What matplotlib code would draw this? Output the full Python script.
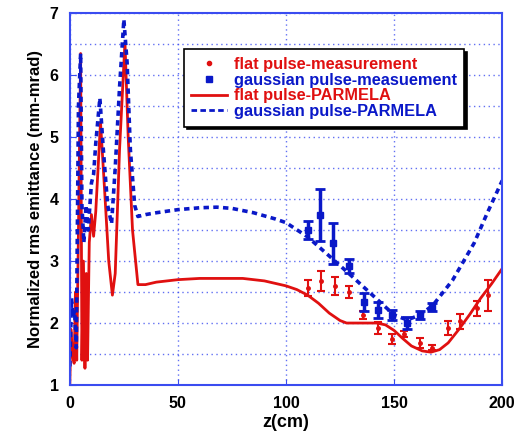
import numpy as np
import matplotlib
matplotlib.use("Agg")
import matplotlib.pyplot as plt
from matplotlib.lines import Line2D

plt.rcParams['font.family'] = ['Liberation Sans', 'DejaVu Sans']
plt.rcParams['font.weight'] = 'bold'

# PARMELA Simulation, flacher Puls
flat_z = [0, 0.5, 1.2, 2.0, 2.6, 3.2, 4.0, 5.0, 5.6, 6.3, 7.0, 7.6, 8.2, 9.0, 10.0, 11.0, 12.0,
          14.2, 16.0, 18.0, 19.7, 21, 23, 25.5, 27, 29, 31.5, 35, 40, 50, 60, 70, 80, 90, 100,
          105, 110, 115, 120, 125, 128, 135, 142, 146, 150, 154, 158, 163, 167, 171, 175,
          180, 185, 190, 195, 200]
flat_eps = [1.0, 1.9, 1.5, 1.35, 2.5, 1.4, 3.5, 6.35, 1.4, 3.0, 1.27, 2.8, 1.4, 3.3, 3.75, 3.4, 3.8,
            5.24, 4.2, 3.0, 2.45, 2.8, 4.8, 6.53, 5.0, 3.5, 2.62, 2.62, 2.66, 2.7, 2.72, 2.72, 2.72, 2.68, 2.6,
            2.54, 2.45, 2.32, 2.16, 2.04, 2.0, 2.0, 2.0, 1.97, 1.88, 1.75, 1.63, 1.55, 1.53, 1.57, 1.68,
            1.9, 2.14, 2.4, 2.63, 2.88]

# PARMELA Simulation, gaussscher Puls
gauss_z = [0, 0.8, 1.5, 2.2, 3, 4, 5, 5.6, 6.5, 7.5, 8.5, 10, 11, 12, 13.9, 15.5, 17.5, 19.3, 21, 23,
           25, 26.5, 28, 30, 31.5, 35, 40, 50, 60, 68, 75, 85, 95, 100, 110, 122, 130, 140, 150,
           156, 162, 168, 177, 187, 193, 200]
gauss_eps = [1.3, 2.4, 2.1, 2.2, 1.6, 5.5, 6.35, 3.9, 3.3, 3.9, 3.5, 4.26, 4.4, 4.9, 5.63, 4.8, 3.9, 3.6, 4.5, 5.8,
             6.9, 6.2, 4.8, 3.9, 3.72, 3.75, 3.78, 3.83, 3.86, 3.87, 3.85, 3.78, 3.68, 3.62, 3.39, 3.02, 2.77, 2.45, 2.13,
             2.05, 2.13, 2.29, 2.69, 3.29, 3.77, 4.3]

# Messungen
flat_mz = [110, 116, 122.7, 129, 135.6, 142.5, 149, 154.6, 162, 167.6, 175, 180.5, 188.4, 193.5]
flat_m = [2.56, 2.68, 2.6, 2.5, 2.13, 1.92, 1.74, 1.82, 1.68, 1.6, 1.92, 2.03, 2.24, 2.45]
flat_err = [0.13, 0.16, 0.14, 0.09, 0.06, 0.1, 0.08, 0.05, 0.08, 0.04, 0.12, 0.12, 0.12, 0.25]

gauss_mz = [110, 115.7, 121.8, 129, 136, 142.5, 149, 156, 162, 167.6]
gauss_m = [3.5, 3.74, 3.29, 2.92, 2.34, 2.21, 2.13, 2.0, 2.13, 2.26]
gauss_err = [0.14, 0.42, 0.33, 0.12, 0.15, 0.13, 0.08, 0.09, 0.06, 0.06]

red = '#e01010'
blue = '#0a18c8'

fig = plt.figure(figsize=(5.21, 4.41), dpi=100)
ax = fig.add_axes([0.134, 0.127, 0.830, 0.843])

ax.plot(flat_z, flat_eps, color=red, lw=2)
ax.plot(gauss_z, gauss_eps, color=blue, lw=2.6, linestyle=(0, (1.5, 1.2)))
ax.errorbar(flat_mz, flat_m, yerr=flat_err, fmt='o', ms=2.5, color=red, ecolor=red,
            elinewidth=1.5, capsize=3, capthick=1.5)
ax.errorbar(gauss_mz, gauss_m, yerr=gauss_err, fmt='s', ms=4, color=blue, ecolor=blue,
            elinewidth=2.5, capsize=3.5, capthick=2)

ax.set_xlim(0, 200)
ax.set_ylim(1, 7)
ax.set_xticks([0, 50, 100, 150, 200])
ax.set_yticks([1, 2, 3, 4, 5, 6, 7])
ax.set_yticks(np.arange(1.5, 7, 1.0), minor=True)
ax.grid(True, which='both', color='#3a4cf0', linestyle=(0, (1, 2.5)), lw=1, alpha=0.8)
ax.tick_params(direction='in', color='#3a4cf0', labelsize=11.5, length=4, pad=8)
ax.tick_params(which='minor', direction='in', color='#3a4cf0', length=0)
for lbl in ax.get_xticklabels() + ax.get_yticklabels():
    lbl.set_fontweight('bold')
for sp in ax.spines.values():
    sp.set_color('#3a4cf0')
    sp.set_linewidth(1.5)

ax.set_xlabel('z(cm)', fontsize=13, fontweight='bold', labelpad=2)
ax.set_ylabel('Normalized rms emittance (mm-mrad)', fontsize=12, fontweight='bold', labelpad=5)

handles = [
    Line2D([], [], color=red, marker='o', ms=3, linestyle='none'),
    Line2D([], [], color=blue, marker='s', ms=4, linestyle='none'),
    Line2D([], [], color=red, lw=2),
    Line2D([], [], color=blue, lw=2, linestyle=(0, (2, 1.2))),
]
labels = ['flat pulse-measurement', 'gaussian pulse-measuement',
          'flat pulse-PARMELA', 'gaussian pulse-PARMELA']
leg = ax.legend(handles, labels, loc='upper left', bbox_to_anchor=(0.245, 0.925),
                frameon=True, fancybox=False, framealpha=1,
                edgecolor='black', shadow={'color': 'black', 'alpha': 1},
                handlelength=2.2, handletextpad=0.4, labelspacing=0.05, borderpad=0.45,
                prop={'weight': 'bold', 'size': 11.8})
for txt, c in zip(leg.get_texts(), [red, blue, red, blue]):
    txt.set_color(c)
leg.get_frame().set_linewidth(1.2)

plt.savefig('out.png', dpi=100)
